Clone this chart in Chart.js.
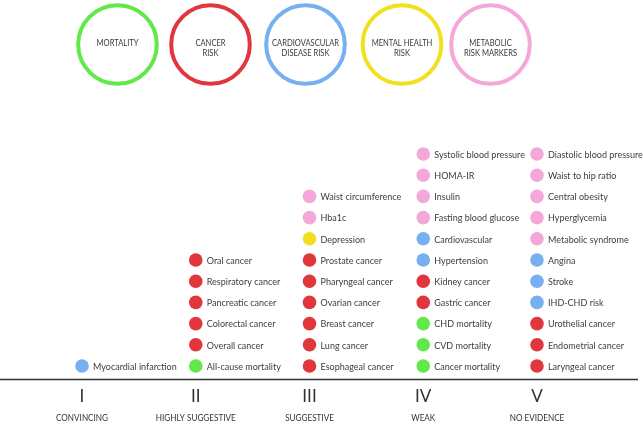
<!DOCTYPE html>
<html>
<head>
<meta charset="utf-8">
<script src="https://cdn.jsdelivr.net/npm/chart.js@4/dist/chart.umd.min.js"></script>
<style>
  body { margin:0; background:#fff; }
  #wrap { width:643px; height:424px; position:relative; }
</style>
</head>
<body>
<div id="wrap"><canvas id="evidenceChart"></canvas></div>
<script>
// evidence grades along the bottom axis
const levels = ["I", "II", "III", "IV", "V"];
const levelNames = ["CONVINCING", "HIGHLY SUGGESTIVE", "SUGGESTIVE", "WEAK", "NO EVIDENCE"];

// outcome groups (legend circles at the top)
const groups = ["mort", "cancer", "cvd", "mental", "metab"];
const groupNames = [["MORTALITY"], ["CANCER", "RISK"], ["CARDIOVASCULAR", "DISEASE RISK"], ["MENTAL HEALTH", "RISK"], ["METABOLIC", "RISK MARKERS"]];
const groupColors = ["#62e84a", "#e2363d", "#76b0f0", "#f2e01e", "#f4a8d8"];

// outcomes per grade, listed bottom to top
const convincing = [["Myocardial infarction", "cvd"]];
const highlySuggestive = [
  ["All-cause mortality", "mort"], ["Overall cancer", "cancer"], ["Colorectal cancer", "cancer"],
  ["Pancreatic cancer", "cancer"], ["Respiratory cancer", "cancer"], ["Oral cancer", "cancer"]
];
const suggestive = [
  ["Esophageal cancer", "cancer"], ["Lung cancer", "cancer"], ["Breast cancer", "cancer"],
  ["Ovarian cancer", "cancer"], ["Pharyngeal cancer", "cancer"], ["Prostate cancer", "cancer"],
  ["Depression", "mental"], ["Hba1c", "metab"], ["Waist circumference", "metab"]
];
const weak = [
  ["Cancer mortality", "mort"], ["CVD mortality", "mort"], ["CHD mortality", "mort"],
  ["Gastric cancer", "cancer"], ["Kidney cancer", "cancer"], ["Hypertension", "cvd"],
  ["Cardiovascular", "cvd"], ["Fasting blood glucose", "metab"], ["Insulin", "metab"],
  ["HOMA-IR", "metab"], ["Systolic blood pressure", "metab"]
];
const noEvidence = [
  ["Laryngeal cancer", "cancer"], ["Endometrial cancer", "cancer"], ["Urothelial cancer", "cancer"],
  ["IHD-CHD risk", "cvd"], ["Stroke", "cvd"], ["Angina", "cvd"],
  ["Metabolic syndrome", "metab"], ["Hyperglycemia", "metab"], ["Central obesity", "metab"],
  ["Waist to hip ratio", "metab"], ["Diastolic blood pressure", "metab"]
];

const columns = [convincing, highlySuggestive, suggestive, weak, noEvidence];

// one dataset per outcome group
const datasets = groups.map((g, gi) => {
  const pts = [];
  columns.forEach((col, ci) => {
    col.forEach((item, row) => {
      if (item[1] === g) pts.push({ x: ci + 1, y: row, label: item[0] });
    });
  });
  return {
    label: groupNames[gi].join(" "),
    data: pts,
    backgroundColor: groupColors[gi],
    borderWidth: 0,
    pointRadius: 6.8,
    pointHoverRadius: 6.8
  };
});

const FAMILY = "Lato, 'Open Sans', sans-serif";

// the original uses a narrow humanist face, so squeeze Lato horizontally
function squeeze(ctx, font, sample, target) {
  ctx.font = font;
  return target / ctx.measureText(sample).width;
}

function drawText(ctx, text, x, y, sx) {
  ctx.save();
  ctx.translate(x, y);
  ctx.scale(sx, 1);
  ctx.fillText(text, 0, 0);
  ctx.restore();
}

const decorPlugin = {
  id: "decor",
  afterDatasetsDraw(chart) {
    const ctx = chart.ctx;
    const xs = chart.scales.x, ys = chart.scales.y;

    ctx.save();

    // point labels
    const labelFont = "10px " + FAMILY;
    const lsx = squeeze(ctx, labelFont, "Systolic blood pressure", 90.7);
    ctx.font = labelFont;
    ctx.fillStyle = "#3c3c3c";
    ctx.textAlign = "left";
    ctx.textBaseline = "alphabetic";
    chart.data.datasets.forEach((ds, i) => {
      chart.getDatasetMeta(i).data.forEach((el, j) => {
        drawText(ctx, ds.data[j].label, el.x + 11, el.y + 3.8, lsx);
      });
    });

    // axis line
    const lineY = Math.round(ys.getPixelForValue(-0.61)) + 0.5;
    ctx.strokeStyle = "#333";
    ctx.lineWidth = 1.4;
    ctx.beginPath();
    ctx.moveTo(0, lineY);
    ctx.lineTo(638, lineY);
    ctx.stroke();

    // grade numerals and names
    ctx.textAlign = "center";
    ctx.fillStyle = "#333";
    const nameFont = "8.5px " + FAMILY;
    const nsx = squeeze(ctx, nameFont, "HIGHLY SUGGESTIVE", 80);
    levels.forEach((lv, i) => {
      const px = xs.getPixelForValue(i + 1);
      ctx.font = "18px " + FAMILY;
      drawText(ctx, lv, px, ys.getPixelForValue(-1.71), 0.95);
      ctx.font = nameFont;
      drawText(ctx, levelNames[i], px, ys.getPixelForValue(-2.59), nsx);
    });

    // legend circles
    const centers = [117.5, 210.5, 305.5, 402, 490.5];
    const legFont = "8.6px " + FAMILY;
    const gsx = squeeze(ctx, legFont, "CARDIOVASCULAR", 67);
    groups.forEach((g, i) => {
      ctx.beginPath();
      ctx.arc(centers[i], 44.5, 39.3, 0, Math.PI * 2);
      ctx.strokeStyle = groupColors[i];
      ctx.lineWidth = 4;
      ctx.stroke();
      ctx.fillStyle = "#3a3a3a";
      ctx.font = legFont;
      groupNames[i].forEach((line, k) => {
        drawText(ctx, line, centers[i], 45.5 + k * 10.5, gsx);
      });
    });
    ctx.restore();
  }
};

new Chart(document.getElementById("evidenceChart"), {
  type: "scatter",
  data: { datasets: datasets },
  options: {
    responsive: true,
    maintainAspectRatio: false,
    animation: false,
    layout: { padding: 0, autoPadding: false },
    plugins: { legend: { display: false }, tooltip: { enabled: false } },
    scales: {
      x: { type: "linear", min: 0.279, max: 5.932, display: false },
      y: { type: "linear", min: -2.736, max: 17.264, display: false }
    }
  },
  plugins: [decorPlugin]
});
</script>
</body>
</html>
